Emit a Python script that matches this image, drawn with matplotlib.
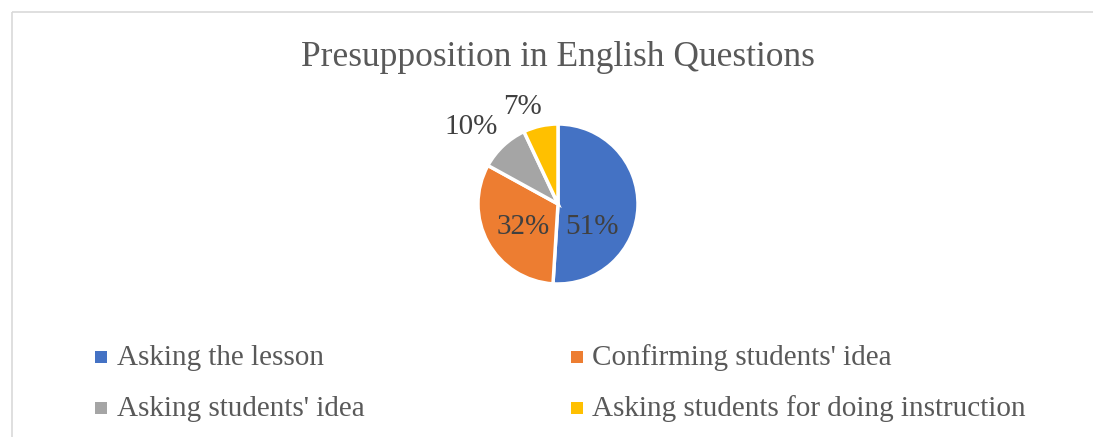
import matplotlib
matplotlib.use("Agg")
import matplotlib.pyplot as plt
from matplotlib.patches import Rectangle

categories = ["Asking the lesson", "Confirming students' idea",
              "Asking students' idea", "Asking students for doing instruction"]
shares = [51, 32, 10, 7]
colors = ["#4472C4", "#ED7D31", "#A5A5A5", "#FFC000"]
title = "Presupposition in English Questions"

# label spots in pie-radius units (Excel's best-fit placement)
label_pos = [(0.43, -0.29), (-0.44, -0.29), (-1.08, 0.96), (-0.44, 1.21)]

W, H = 1093, 437
TXT = "#595959"
FONT = "Liberation Serif"

fig = plt.figure(figsize=(W / 100, H / 100), dpi=100)
bg = fig.add_axes([0, 0, 1, 1])
bg.set_xlim(0, W)
bg.set_ylim(H, 0)
bg.axis("off")

# chart frame (cropped on right/bottom)
bg.add_patch(Rectangle((11.5, 11.5), W + 20, H + 20, fill=False, ec="#d9d9d9", lw=1.2))
bg.text(558, 66, title, ha="center", va="baseline", fontsize=25.5, color=TXT, family=FONT)

cx, cy, R = 558, 204, 80
ax = fig.add_axes([(cx - R) / W, (H - cy - R) / H, 2 * R / W, 2 * R / H])
wedges, _ = ax.pie(shares, colors=colors, startangle=90, counterclock=False,
                   wedgeprops=dict(edgecolor="white", linewidth=2.5))
ax.set_xlim(-1, 1)
ax.set_ylim(-1, 1)
for w in wedges:
    w.set_clip_on(False)
for s, (x, y) in zip(shares, label_pos):
    ax.text(x, y, f"{s}%", ha="center", va="center", fontsize=21, color="#404040",
            family=FONT, clip_on=False)

# legend, filled row-wise like Excel
cols = [(95, 117), (571, 592)]
rows = [363, 414]
for i, (name, c) in enumerate(zip(categories, colors)):
    mx, tx = cols[i % 2]
    by = rows[i // 2]
    bg.add_patch(Rectangle((mx, by - 12), 12, 12, color=c, lw=0))
    bg.text(tx, by + 2, name, ha="left", va="baseline", fontsize=21, color=TXT, family=FONT)

fig.savefig("out.png", dpi=100)
